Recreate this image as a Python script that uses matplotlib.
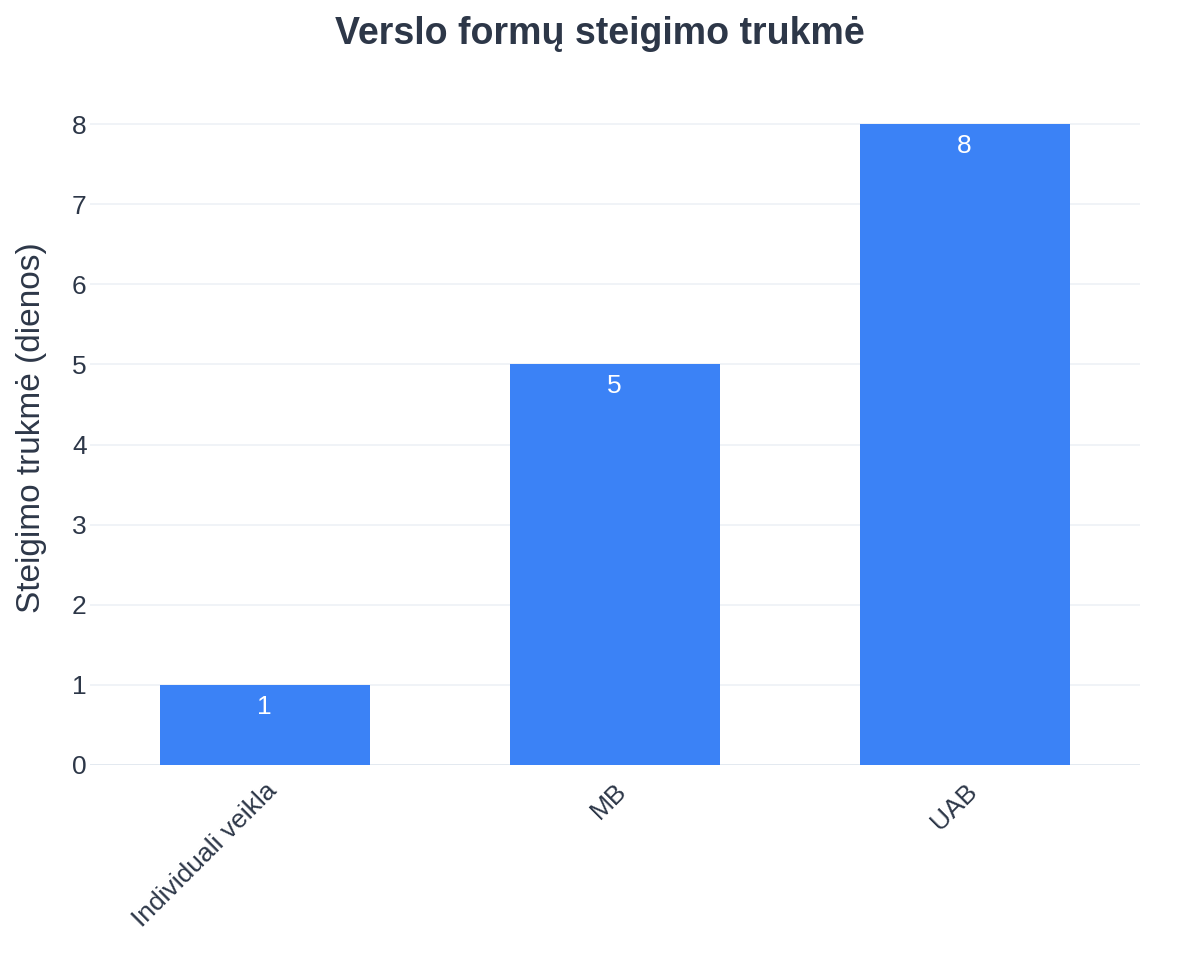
import matplotlib
matplotlib.use("Agg")
import matplotlib.pyplot as plt

categories = ["Individuali veikla", "MB", "UAB"]
values = [1, 5, 8]
yticks = [0, 1, 2, 3, 4, 5, 6, 7, 8]

plt.rcParams['font.family'] = ['Liberation Sans', 'DejaVu Sans']

W, H = 1200, 975
fig = plt.figure(figsize=(W / 100, H / 100), dpi=100)
left, right, bottom, top = 89.5, 1139.5, 765, 90.4
ax = fig.add_axes([left / W, 1 - bottom / H, (right - left) / W, (bottom - top) / H])

text_color = "#2d3748"
x = list(range(len(categories)))
bars = ax.bar(x, values, width=0.6, color="#3b82f6", zorder=3)

ax.set_xlim(-0.5, len(categories) - 0.5)
ax.set_ylim(0, 8.42)
ax.set_yticks(yticks)
ax.set_xticks(x)
ax.set_xticklabels(categories, rotation=45, ha="right", rotation_mode="anchor",
                   fontsize=19, color=text_color)
ax.tick_params(axis="y", labelsize=19, labelcolor=text_color, length=0, pad=2)
ax.tick_params(axis="x", length=0, pad=10)
ax.grid(axis="y", color="#edf1f6", linewidth=1.2, zorder=0)
for s in ax.spines.values():
    s.set_visible(False)
ax.axhline(0, color="#e2e8f0", linewidth=2, zorder=2)

for xi, v in zip(x, values):
    ax.annotate(str(v), (xi, v), xytext=(0, -7), textcoords="offset points",
                ha="center", va="top", color="white", fontsize=19, zorder=4)

ax.set_ylabel("Steigimo trukmė (dienos)", fontsize=24, color=text_color, labelpad=18)
fig.text(0.5, 1 - 34 / H, "Verslo formų steigimo trukmė", ha="center", va="center",
         fontsize=27, fontweight="bold", color=text_color)

fig.savefig("out.png", dpi=100, facecolor="white")
